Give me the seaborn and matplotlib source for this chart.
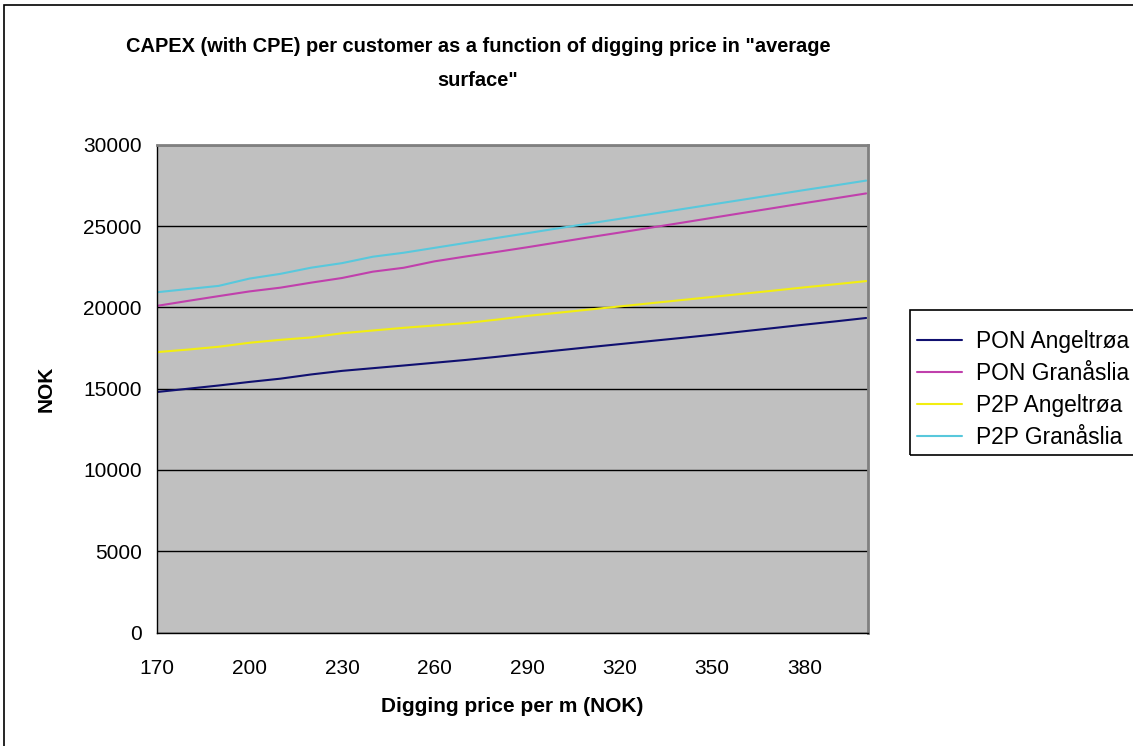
import pandas as pd
import seaborn as sns
import matplotlib.pyplot as plt
from matplotlib.patches import Rectangle

# Data (digging price per m, NOK)
price = list(range(170, 401, 10))
pon_angeltroa = [14800, 15000, 15200, 15420, 15620, 15880, 16100, 16265, 16430, 16600, 16770, 16960,
                 17165, 17360, 17555, 17745, 17935, 18125, 18320, 18530, 18735, 18945, 19145, 19355]
pon_granaslia = [20100, 20405, 20700, 20990, 21220, 21530, 21815, 22205, 22445, 22840, 23135, 23415,
                 23705, 24010, 24315, 24610, 24910, 25210, 25515, 25820, 26120, 26425, 26720, 27020]
p2p_angeltroa = [17255, 17410, 17585, 17830, 18010, 18160, 18415, 18585, 18750, 18895, 19040, 19250,
                 19480, 19675, 19870, 20065, 20260, 20455, 20650, 20845, 21040, 21240, 21430, 21625]
p2p_granaslia = [20940, 21135, 21330, 21780, 22070, 22450, 22730, 23125, 23370, 23670, 23970, 24275,
                 24570, 24870, 25165, 25455, 25745, 26045, 26340, 26635, 26930, 27230, 27515, 27810]

series_names = ["PON Angeltrøa", "PON Granåslia", "P2P Angeltrøa", "P2P Granåslia"]
colors = ["#101070", "#c040ac", "#f2ee10", "#58c8dc"]

# long-form table for seaborn
df = pd.concat([
    pd.DataFrame({"price": price, "NOK": vals, "series": name})
    for name, vals in zip(series_names, [pon_angeltroa, pon_granaslia, p2p_angeltroa, p2p_granaslia])
])

sns.set_theme(style="white")
plt.rcParams['font.family'] = ['Liberation Sans', 'DejaVu Sans']
plt.rcParams['text.color'] = 'black'
plt.rcParams['axes.labelcolor'] = 'black'
plt.rcParams['xtick.color'] = 'black'
plt.rcParams['ytick.color'] = 'black'

fig = plt.figure(figsize=(11.33, 7.46), dpi=100)
ax = fig.add_axes([157 / 1133, 1 - 632.5 / 746, 711 / 1133, 487.5 / 746])
ax.set_facecolor("#c0c0c0")

sns.lineplot(data=df, x="price", y="NOK", hue="series", palette=dict(zip(series_names, colors)),
             linewidth=1.5, ax=ax, legend=True)

ax.set_xlim(170, 400.6)
ax.set_ylim(0, 30000)
ax.set_xticks(range(170, 381, 30))
ax.set_yticks(range(0, 30001, 5000))
ax.yaxis.grid(True, color="black", linewidth=1)
ax.xaxis.grid(False)
ax.set_axisbelow(True)

ax.tick_params(axis="both", direction="out", length=5, width=1, color="black", labelsize=15, pad=6)
ax.tick_params(axis="x", pad=14)
for side in ["left", "bottom"]:
    ax.spines[side].set_color("black")
    ax.spines[side].set_linewidth(1)
for side in ["top", "right"]:
    ax.spines[side].set_color("#808080")
    ax.spines[side].set_linewidth(2)

ax.set_xlabel("Digging price per m (NOK)", fontsize=15, fontweight="bold", labelpad=14)
ax.set_ylabel("NOK", fontsize=15, fontweight="bold", labelpad=20)

fig.text(478 / 1133, 1 - 64 / 746,
         'CAPEX (with CPE) per customer as a function of digging price in "average\nsurface"',
         ha="center", va="center", fontsize=14.4, fontweight="bold", linespacing=2.0)

# legend: entries without frame, box drawn separately (it runs past the right edge)
handles, labels = ax.get_legend_handles_labels()
ax.legend(handles, labels, loc="upper left", bbox_to_anchor=(912 / 1133, 1 - 325 / 746),
          bbox_transform=fig.transFigure, fontsize=16.4, frameon=False,
          borderpad=0.2, labelspacing=0.4, handlelength=2.0, handletextpad=0.6, borderaxespad=0)
fig.patches.append(Rectangle((910 / 1133, 1 - 455 / 746), 0.3, 145 / 746, transform=fig.transFigure,
                             fill=False, edgecolor="black", linewidth=1.2))

# outer chart border
fig.patches.append(Rectangle((4 / 1133, -0.02), 1.1, (746 - 5) / 746 + 0.02, transform=fig.transFigure,
                             fill=False, edgecolor="black", linewidth=1.2))

fig.savefig("out.png", dpi=100)
